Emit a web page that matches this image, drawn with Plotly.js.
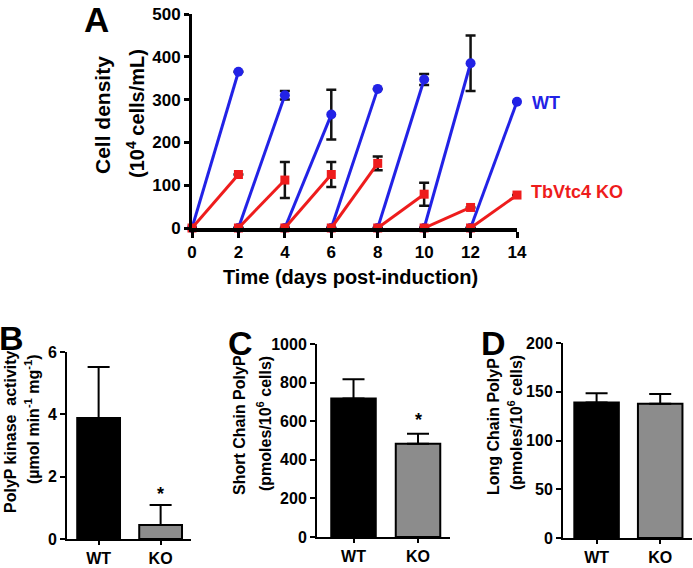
<!DOCTYPE html>
<html>
<head>
<meta charset="utf-8">
<script src="https://cdn.plot.ly/plotly-3.0.1.min.js"></script>
<style>html,body{margin:0;padding:0;background:#fff;}#chart{width:693px;height:568px;}</style>
</head>
<body>
<div id="chart"></div>
<script>
// ---- Panel A data: growth curves (each segment: start day -> end day) ----
const segStart = [0, 2, 4, 6, 8, 10, 12];
const segEnd   = [2, 4, 6, 8, 10, 12, 14];
const wtEnd    = [365, 310, 265, 325, 347, 385, 295];
const wtErr    = [0, 10, 58, 0, 13, 65, 0];
const koEnd    = [125, 112, 125, 151, 79, 48, 77];
const koErr    = [0, 42, 29, 16, 27, 0, 0];
const dayTicks = [0, 2, 4, 6, 8, 10, 12, 14];

// ---- Panels B, C, D ----
const groups = ['WT', 'KO'];
const kinaseVals = [3.88, 0.45];
const kinaseErr  = [1.64, 0.64];
const shortVals  = [717, 483];
const shortErr   = [101, 52];
const longVals   = [139, 137.6];
const longErr    = [9.5, 10];

const W = 693, H = 568;
const px = v => v / W;
const py = v => 1 - v / H;
const FONT = 'Liberation Sans, Arial, sans-serif';
const BLUE = '#2222e6';
const RED = '#ee1c1c';
const GRAY = '#8c8c8c';

function segTrace(ends, errs, color, symbol, size) {
  const x = [], y = [], e = [];
  segStart.forEach((s, i) => {
    x.push(s, segEnd[i], null);
    y.push(0, ends[i], null);
    e.push(0, errs[i], null);
  });
  return {
    type: 'scatter', mode: 'lines+markers', x, y, xaxis: 'x', yaxis: 'y',
    line: {color, width: 3},
    marker: {color, symbol, size},
    error_y: {type: 'data', array: e, visible: true, color: '#111', thickness: 2.5, width: 5},
    cliponaxis: false, connectgaps: false, showlegend: false, hoverinfo: 'skip'
  };
}

function barTrace(vals, errs, xa, ya, width) {
  return {
    type: 'bar', x: groups, y: vals, xaxis: xa, yaxis: ya, width: width,
    marker: {color: ['#000000', GRAY], line: {color: '#000', width: 2}},
    error_y: {type: 'data', array: errs, arrayminus: [0, 0], symmetric: false,
              visible: true, color: '#000', thickness: 2, width: 11},
    showlegend: false, hoverinfo: 'skip'
  };
}

const data = [
  segTrace(wtEnd, wtErr, BLUE, 'circle', 10),
  segTrace(koEnd, koErr, RED, 'square', 9),
  barTrace(kinaseVals, kinaseErr, 'x2', 'y2', 0.69),
  barTrace(shortVals, shortErr, 'x3', 'y3', 0.69),
  barTrace(longVals, longErr, 'x4', 'y4', 0.70)
];

const tickFontA = {family: FONT, size: 17, color: '#000', weight: 'bold'};
const tickFontB = {family: FONT, size: 16, color: '#000', weight: 'bold'};
const tickFontCat = {family: FONT, size: 16, color: '#000', weight: 'bold'};

function yax(domainTop, domainBot, range, dtick, lw, tf) {
  return {domain: [py(domainBot), py(domainTop)], range, dtick, tick0: 0,
    showgrid: false, zeroline: false, showline: true, linecolor: '#000', linewidth: lw,
    ticks: 'outside', ticklen: 5, tickwidth: lw, tickcolor: '#000', tickfont: tf, fixedrange: true};
}
function xaxCat(left, right, range, anchor) {
  return {domain: [px(left), px(right)], range, type: 'category', anchor,
    showgrid: false, zeroline: false, showline: true, linecolor: '#000', linewidth: 2,
    ticks: 'outside', ticklen: 4, tickwidth: 2, tickcolor: '#000', tickfont: tickFontCat,
    fixedrange: true};
}

const ann = [];
function addText(text, x, y, size, color, angle) {
  ann.push({text, xref: 'paper', yref: 'paper', x: px(x), y: py(y), xanchor: 'center', yanchor: 'middle',
    showarrow: false, textangle: angle || 0,
    font: {family: FONT, size, color: color || '#000', weight: 'bold'}});
}
// panel letters
addText('A', 96, 20, 35);
addText('B', 11, 338, 34);
addText('C', 240, 343, 34);
addText('D', 493, 343, 34);
// panel A titles
addText('Cell density', 102, 115, 21, '#000', -90);
addText('(10<sup>4</sup> cells/mL)', 135, 114, 20, '#000', -90);
addText('Time (days post-induction)', 350, 277, 20);
addText('WT', 546, 103, 18, BLUE);
addText('TbVtc4 KO', 577, 192, 18, RED);
// panel B-D titles
addText('PolyP kinase  activity', 10, 432, 16, '#000', -90);
addText('(µmol min<sup>-1</sup> mg<sup>-1</sup>)', 32, 419, 16, '#000', -90);
addText('Short Chain PolyP', 240, 425, 16, '#000', -90);
addText('(pmoles/10<sup>6</sup> cells)', 264, 424, 16, '#000', -90);
addText('Long Chain PolyP', 493, 427, 16, '#000', -90);
addText('(pmoles/10<sup>6</sup> cells)', 515, 423, 16, '#000', -90);
// significance asterisks
addText('*', 160, 494, 18);
addText('*', 418, 420, 18);

const layout = {
  width: W, height: H, margin: {l: 0, r: 0, t: 0, b: 0},
  paper_bgcolor: '#fff', plot_bgcolor: 'rgba(0,0,0,0)', showlegend: false,
  xaxis: {domain: [px(192), px(517)], range: [0, 14], tickvals: dayTicks, anchor: 'y',
    showgrid: false, zeroline: false, showline: true, linecolor: '#000', linewidth: 4,
    ticks: 'outside', ticklen: 6, tickwidth: 3, tickcolor: '#000', tickfont: tickFontA, fixedrange: true},
  yaxis: Object.assign(yax(14, 228, [0, 500], 100, 3, tickFontA), {anchor: 'x'}),
  xaxis2: xaxCat(67, 191, [-0.51, 1.49], 'y2'),
  yaxis2: Object.assign(yax(352, 539, [0, 6], 2, 2, tickFontB), {anchor: 'x2'}),
  xaxis3: xaxCat(317, 450, [-0.566, 1.496], 'y3'),
  yaxis3: Object.assign(yax(344, 537, [0, 1000], 200, 2, tickFontB), {anchor: 'x3'}),
  xaxis4: xaxCat(563, 692, [-0.528, 1.5], 'y4'),
  yaxis4: Object.assign(yax(343, 538, [0, 200], 50, 2, tickFontB), {anchor: 'x4'}),
  annotations: ann
};

Plotly.newPlot('chart', data, layout, {displayModeBar: false, staticPlot: true});
</script>
</body>
</html>
